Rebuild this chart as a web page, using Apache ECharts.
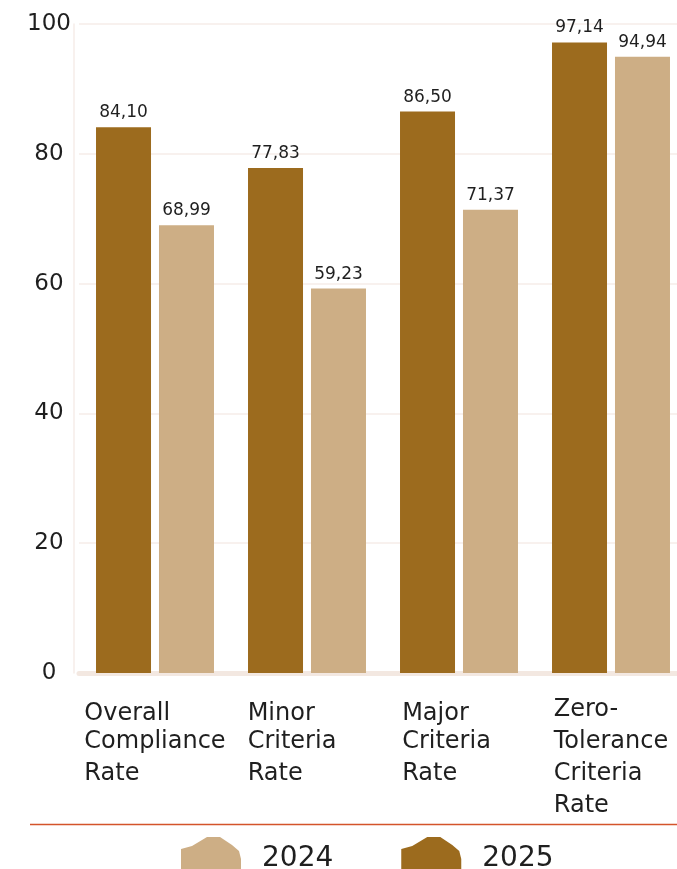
<!DOCTYPE html>
<html>
<head>
<meta charset="utf-8">
<script src="https://cdn.jsdelivr.net/npm/echarts@6/dist/echarts.min.js"></script>
<style>
  html, body { margin: 0; padding: 0; background: #fff; }
  #chart { width: 677px; height: 869px; }
</style>
</head>
<body>
<div id="chart"></div>
<script>
  "use strict";

  const categories = [
    "Overall\nCompliance\nRate",
    "Minor\nCriteria\nRate",
    "Major\nCriteria\nRate",
    "Zero-\nTolerance\nCriteria\nRate",
  ];
  const years = ["2024", "2025"];
  const values2025 = [84.10, 77.83, 86.50, 97.14];
  const values2024 = [68.99, 59.23, 71.37, 94.94];
  const yTicks = [0, 20, 40, 60, 80, 100];

  const COLORS = {
    y2025: "#9c6b1e", y2024: "#cdae85", text: "#1f1f1f",
    grid: "#f6ede8", base: "#f3e8e1", rule: "#d4542b",
  };
  const FONT = "'DejaVu Sans', sans-serif";

  const blob = "path://M0,12 L11,9 L26,0 L39,0 L51,8 L58,14 L60,22 L60,44 L0,44 Z";

  // each line left-aligned inside a centred block; some blocks nudged left
  const padRight = [0, 30, 25, 0];
  function catLabel(value, idx) {
    return value.split("\n").map((line, i) => {
      const key = (i === 0 && idx < 3 ? "f" : "l") + (padRight[idx] ? idx : "");
      return "{" + key + "|" + line + "}";
    }).join("\n");
  }
  const rich = {};
  [0, 1, 2, 3].forEach((idx) => {
    const suf = padRight[idx] ? idx : "";
    rich["l" + suf] = { align: "left", fontSize: 24, lineHeight: 32, fontFamily: FONT, color: COLORS.text, padding: [0, padRight[idx], 0, 0] };
    rich["f" + suf] = { align: "left", fontSize: 24, lineHeight: 32, fontFamily: FONT, color: COLORS.text, padding: [8, padRight[idx], 0, 0] };
  });

  const fmt = (p) => p.value.toFixed(2).replace(".", ",");

  const chart = echarts.init(document.getElementById("chart"));
  chart.setOption({
    animation: false,
    backgroundColor: "#fff",
    textStyle: { fontFamily: FONT },
    grid: { left: 79, top: 24, width: 608, height: 649, containLabel: false, outerBoundsMode: "none" },
    xAxis: {
      type: "category",
      data: categories,
      axisTick: { show: false },
      axisLine: { lineStyle: { color: COLORS.base, width: 5 } },
      axisLabel: {
        interval: 0, margin: 21, align: "center", verticalAlign: "top",
        formatter: catLabel, rich,
      },
    },
    yAxis: {
      type: "value",
      min: yTicks[0], max: yTicks[yTicks.length - 1], interval: 20,
      offset: 5,
      axisLine: { show: true, lineStyle: { color: COLORS.grid, width: 1.5 } },
      axisTick: { show: false },
      splitLine: { lineStyle: { color: COLORS.grid, width: 1.5 } },
      axisLabel: {
        margin: 25, align: "center", fontSize: 23, color: COLORS.text,
        fontFamily: FONT, padding: [10, 0, 0, 0],
      },
    },
    legend: {
      data: [
        { name: "2024", icon: blob },
        { name: "2025", icon: blob },
      ],
      left: 181, top: 837, padding: 0,
      itemWidth: 60, itemHeight: 44, itemGap: 68,
      textStyle: { fontSize: 28, color: COLORS.text, fontFamily: FONT, padding: [0, 0, 0, 16] },
    },
    graphic: [{
      type: "line", silent: true,
      shape: { x1: 30, y1: 824.5, x2: 677, y2: 824.5 },
      style: { stroke: COLORS.rule, lineWidth: 1.5 },
    }],
    series: [
      {
        name: "2025", type: "bar", data: values2025,
        barWidth: 55, barGap: "14.5%",
        itemStyle: { color: COLORS.y2025 },
        label: { show: true, position: "top", distance: 6, fontSize: 17, color: COLORS.text, fontFamily: FONT, formatter: fmt },
      },
      {
        name: "2024", type: "bar", data: values2024,
        barWidth: 55,
        itemStyle: { color: COLORS.y2024 },
        label: { show: true, position: "top", distance: 6, fontSize: 17, color: COLORS.text, fontFamily: FONT, formatter: fmt },
      },
    ],
  });
</script>
</body>
</html>
